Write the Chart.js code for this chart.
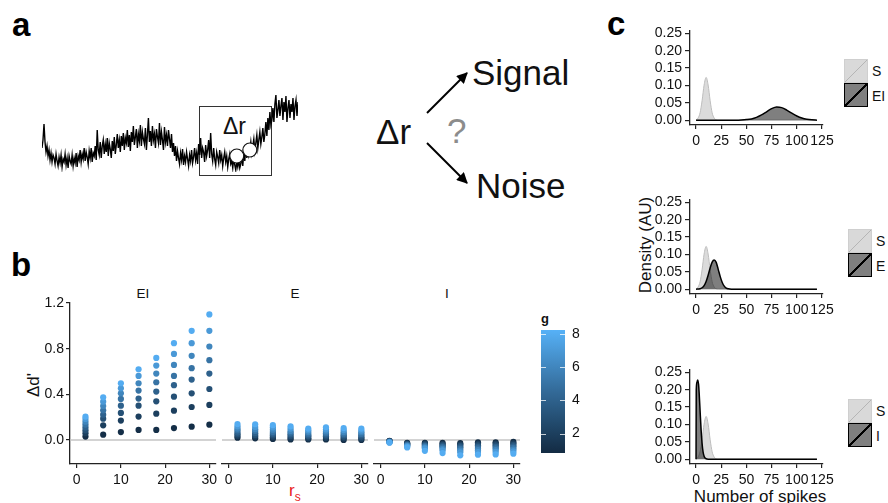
<!DOCTYPE html>
<html>
<head>
<meta charset="utf-8">
<script src="https://cdn.jsdelivr.net/npm/chart.js@4.4.0/dist/chart.umd.min.js"></script>
<style>
  body { margin: 0; background: #fff; }
  #fig { position: relative; width: 888px; height: 503px; overflow: hidden; background: #fff;
         font-family: "Liberation Sans", Arial, Helvetica, sans-serif; color: #111; }
  canvas { position: absolute; }
  .t { position: absolute; line-height: 1; white-space: nowrap; }
  .letter { font-weight: bold; font-size: 33px; color: #000; }
  .big { font-size: 35px; color: #111; }
  .strip { font-size: 13.5px; transform: translateX(-50%); color: #111; }
  .title { font-size: 17px; }
  .rot { transform: translate(-50%, -50%) rotate(-90deg); }
  .key { position: absolute; width: 24px; height: 24px; box-sizing: border-box; }
  .keyS { background: linear-gradient(to bottom right, #d9d9d9 calc(50% - 0.7px), #b5b5b5 calc(50% - 0.7px),
          #b5b5b5 calc(50% + 0.7px), #d9d9d9 calc(50% + 0.7px)); border: 1px solid #cfcfcf; }
  .keyD { background: linear-gradient(to bottom right, #7f7f7f calc(50% - 0.9px), #000 calc(50% - 0.9px),
          #000 calc(50% + 0.9px), #7f7f7f calc(50% + 0.9px)); border: 1.3px solid #000; }
  .keyLbl { font-size: 14px; }
</style>
</head>
<body>
<div id="fig">
  <!-- panel letters -->
  <div class="t letter" style="left:12px; top:8px;">a</div>
  <div class="t letter" style="left:11px; top:248px;">b</div>
  <div class="t letter" style="left:607px; top:7px;">c</div>

  <!-- panel a: window box and diagram -->
  <div style="position:absolute; left:199px; top:106px; width:73px; height:70px; border:1.3px solid #333; box-sizing:border-box;"></div>
  <div class="t" style="left:223px; top:115px; font-size:23px;">Δr</div>
  <div class="t big" style="left:376px; top:114px;">Δr</div>
  <div class="t big" style="left:447px; top:113px; color:#8c8c8c;">?</div>
  <div class="t big" style="left:472px; top:55px;">Signal</div>
  <div class="t big" style="left:476px; top:168px;">Noise</div>
  <svg width="888" height="503" style="position:absolute; left:0; top:0;">
    <defs>
      <marker id="ah" viewBox="0 0 10 10" refX="9" refY="5" markerWidth="12" markerHeight="11"
              orient="auto" markerUnits="userSpaceOnUse">
        <path d="M0,0 L10,5 L0,10 z" fill="#000"/>
      </marker>
    </defs>
    <line x1="427" y1="113" x2="467" y2="73" stroke="#000" stroke-width="2" marker-end="url(#ah)"/>
    <line x1="427" y1="143" x2="467" y2="183" stroke="#000" stroke-width="2" marker-end="url(#ah)"/>
  </svg>

  <!-- panel b text -->
  <div class="t strip" style="left:143px; top:287px;">EI</div>
  <div class="t strip" style="left:295px; top:287px;">E</div>
  <div class="t strip" style="left:447px; top:287px;">I</div>
  <div class="t title rot" style="left:33px; top:385px;">Δd'</div>
  <div class="t title" style="left:289px; top:482px; color:#e8211d;">r<span style="font-size:12px; position:relative; top:5px;">s</span></div>
  <div class="t" style="left:541px; top:312px; font-size:13px; font-weight:bold;">g</div>

  <!-- panel c text -->
  <div class="t title rot" style="left:645px; top:245px;">Density (AU)</div>
  <div class="t title" style="left:760px; top:488px; transform:translateX(-50%);">Number of spikes</div>

  <div class="key keyS" style="left:844px; top:59px;"></div>
  <div class="key keyD" style="left:844px; top:83px;"></div>
  <div class="t keyLbl" style="left:872px; top:64px;">S</div>
  <div class="t keyLbl" style="left:872px; top:89px;">EI</div>

  <div class="key keyS" style="left:848px; top:229px;"></div>
  <div class="key keyD" style="left:848px; top:253px;"></div>
  <div class="t keyLbl" style="left:876px; top:234px;">S</div>
  <div class="t keyLbl" style="left:876px; top:259px;">E</div>

  <div class="key keyS" style="left:848px; top:399px;"></div>
  <div class="key keyD" style="left:848px; top:423px;"></div>
  <div class="t keyLbl" style="left:876px; top:404px;">S</div>
  <div class="t keyLbl" style="left:876px; top:429px;">I</div>
</div>

<script>
// ---- data ----

// panel a: noisy rate trace, one sample per pixel column, arbitrary units
const traceValues = [
  22, 30, 46, 28, 18, 24, 14, 20, 10, 17, 8, 15, 12, 6, 16, 9,
  4, 13, 7, 15, 3, 11, 8, 16, 5, 12, 2, 14, 9, 6, 15, 4,
  12, 7, 17, 3, 14, 10, 20, 8, 16, 11, 22, 9, 18, 13, 6, 19,
  12, 22, 8, 17, 14, 24, 10, 40, 20, 15, 28, 12, 24, 30, 16, 26,
  18, 32, 14, 27, 21, 12, 29, 19, 33, 16, 25, 36, 22, 30, 18, 34,
  24, 37, 20, 32, 27, 40, 23, 35, 19, 38, 28, 44, 25, 33, 41, 22,
  36, 29, 45, 24, 38, 31, 26, 42, 20, 35, 52, 28, 39, 24, 44, 30,
  36, 22, 41, 33, 27, 47, 25, 38, 30, 20, 43, 28, 35, 24, 40, 31,
  22, 36, 18, 27, 14, 24, 9, 19, 12, 6, 17, 10, 21, 5, 14, 8,
  18, 11, 4, 15, 9, 20, 7, 13, 22, 10, 17, 6, 26, 15, 32, 12,
  22, 18, 8, 25, 14, 20, 30, 12, 37, 16, 9, 22, 11, 5, 18, 13,
  7, 20, 10, 15, 4, 12, 18, 8, 14, 3, 11, 16, 6, 9, 2, 12,
  5, 0, 8, 3, 10, 2, 6, 14, 4, 18, 9, 22, 12, 26, 15, 20,
  28, 17, 24, 31, 19, 27, 35, 22, 30, 38, 26, 33, 42, 28, 36, 48,
  34, 52, 40, 58, 45, 50, 62, 48, 66, 75, 52, 60, 70, 54, 64, 72,
  50, 68, 58, 74, 48, 62, 70, 52, 66, 58, 72, 50, 64, 70, 54, 68
];
const windowPoints = [{ x: 194, y: 14 }, { x: 207, y: 20 }];

// panel b: delta d' per r_s column, values listed for g = 1..8
const rsValues = [2, 6, 10, 14, 18, 22, 26, 30];
const rsTicks = [0, 10, 20, 30];
const gLevels = [1, 2, 3, 4, 5, 6, 7, 8];
const gTicks = [2, 4, 6, 8];
const gLimits = [0.83, 8.24];
const dprimeTicks = [0, 0.4, 0.8, 1.2];

const deltaEI = [
  [0.03, 0.06, 0.085, 0.11, 0.135, 0.16, 0.185, 0.205],
  [0.047, 0.129, 0.187, 0.222, 0.26, 0.298, 0.336, 0.374],
  [0.07, 0.17, 0.237, 0.301, 0.36, 0.409, 0.453, 0.497],
  [0.088, 0.205, 0.301, 0.363, 0.433, 0.497, 0.561, 0.62],
  [0.088, 0.231, 0.339, 0.424, 0.506, 0.582, 0.652, 0.719],
  [0.105, 0.257, 0.38, 0.48, 0.561, 0.658, 0.754, 0.848],
  [0.117, 0.289, 0.409, 0.529, 0.629, 0.737, 0.848, 0.956],
  [0.134, 0.307, 0.447, 0.582, 0.699, 0.819, 0.956, 1.10]
];
const deltaE = [
  [0.02, 0.035, 0.05, 0.065, 0.085, 0.1, 0.12, 0.14],
  [0.015, 0.03, 0.045, 0.06, 0.08, 0.095, 0.115, 0.138],
  [0.01, 0.025, 0.04, 0.055, 0.07, 0.09, 0.11, 0.13],
  [0.005, 0.02, 0.035, 0.05, 0.065, 0.08, 0.1, 0.12],
  [0.005, 0.015, 0.03, 0.04, 0.055, 0.07, 0.085, 0.1],
  [0.005, 0.018, 0.032, 0.046, 0.06, 0.075, 0.092, 0.112],
  [0.0, 0.015, 0.028, 0.042, 0.056, 0.07, 0.087, 0.105],
  [0.0, 0.012, 0.025, 0.04, 0.053, 0.068, 0.083, 0.1]
];
const deltaI = [
  [-0.008, -0.01, -0.012, -0.014, -0.016, -0.018, -0.02, -0.023],
  [-0.025, -0.03, -0.035, -0.04, -0.045, -0.05, -0.056, -0.065],
  [-0.025, -0.032, -0.04, -0.048, -0.056, -0.064, -0.074, -0.095],
  [-0.025, -0.035, -0.045, -0.055, -0.065, -0.077, -0.09, -0.114],
  [-0.028, -0.04, -0.052, -0.064, -0.077, -0.092, -0.108, -0.134],
  [-0.02, -0.033, -0.046, -0.06, -0.074, -0.089, -0.105, -0.128],
  [-0.02, -0.033, -0.046, -0.06, -0.073, -0.088, -0.104, -0.126],
  [-0.016, -0.029, -0.042, -0.055, -0.069, -0.084, -0.1, -0.12]
];

// panel c: spike count densities
const spikeTicks = [0, 25, 50, 75, 100, 125];
const densityTicks = [0, 0.05, 0.10, 0.15, 0.20, 0.25];

const sX = [0, 2, 4, 6, 8, 10, 12, 14, 16, 18, 20, 22, 120];
const sDensity = [0.001, 0.006, 0.021, 0.056, 0.101, 0.123, 0.101, 0.056, 0.021, 0.006, 0.001, 0, 0];

const eiX = [0, 40, 45, 50, 55, 60, 65, 70, 75, 80, 85, 90, 95, 100, 105, 110, 115, 120];
const eiDensity = [0, 0, 0.0005, 0.0015, 0.0035, 0.008, 0.015, 0.024, 0.033, 0.038, 0.036, 0.029, 0.02, 0.012, 0.006, 0.0025, 0.0008, 0];

const eX = [0, 4, 6, 8, 10, 12, 14, 16, 18, 20, 22, 24, 26, 28, 30, 32, 35, 120];
const eDensity = [0, 0.001, 0.004, 0.01, 0.022, 0.04, 0.061, 0.078, 0.084, 0.077, 0.057, 0.036, 0.019, 0.0085, 0.003, 0.001, 0, 0];

const iX = [0, 0.2, 1, 1.6, 2.5, 3, 4, 5, 6, 7, 8, 9, 10, 12, 120];
const iDensity = [0, 0.2, 0.222, 0.228, 0.215, 0.195, 0.14, 0.085, 0.045, 0.02, 0.008, 0.003, 0.001, 0, 0];

// ---- helpers ----
Chart.defaults.font.family = '"Liberation Sans", Arial, Helvetica, sans-serif';
Chart.defaults.font.size = 14;
Chart.defaults.color = '#111';

const fig = document.getElementById('fig');

function makeCanvas(left, top, width, height) {
  const c = document.createElement('canvas');
  c.width = width;
  c.height = height;
  c.style.left = left + 'px';
  c.style.top = top + 'px';
  c.style.width = width + 'px';
  c.style.height = height + 'px';
  fig.appendChild(c);
  return c;
}

const gradStops = ['#132B43', '#224B6E', '#336A98', '#448DC7', '#56B1F7'];

function hexToRgb(h) {
  const n = parseInt(h.slice(1), 16);
  return [(n >> 16) & 255, (n >> 8) & 255, n & 255];
}

function gColour(g) {
  const t = Math.min(1, Math.max(0, (g - gLimits[0]) / (gLimits[1] - gLimits[0])));
  const pos = t * (gradStops.length - 1);
  const i = Math.min(Math.floor(pos), gradStops.length - 2);
  const f = pos - i;
  const a = hexToRgb(gradStops[i]);
  const b = hexToRgb(gradStops[i + 1]);
  const c = a.map((v, k) => Math.round(v + (b[k] - v) * f));
  return `rgb(${c[0]}, ${c[1]}, ${c[2]})`;
}

function facetPoints(columns) {
  const pts = [];
  gLevels.forEach((g, gi) => {
    rsValues.forEach((rs, ri) => pts.push({ x: rs, y: columns[ri][gi], g: g }));
  });
  return pts;
}

function toPoints(xs, ys) {
  return xs.map((x, i) => ({ x: x, y: ys[i] }));
}

const zeroLine = {
  id: 'zeroLine',
  beforeDatasetsDraw(chart) {
    const { ctx, chartArea, scales } = chart;
    const y = scales.y.getPixelForValue(0);
    ctx.save();
    ctx.strokeStyle = '#c4c4c4';
    ctx.lineWidth = 1.5;
    ctx.beginPath();
    ctx.moveTo(chartArea.left, y);
    ctx.lineTo(chartArea.right, y);
    ctx.stroke();
    ctx.restore();
  }
};

const colourbarTicks = {
  id: 'colourbarTicks',
  afterDatasetsDraw(chart) {
    const { ctx, chartArea: a, scales } = chart;
    ctx.save();
    ctx.strokeStyle = 'rgba(255,255,255,0.75)';
    ctx.lineWidth = 1;
    gTicks.forEach(v => {
      const py = Math.round(scales.y.getPixelForValue(v)) + 0.5;
      ctx.beginPath();
      ctx.moveTo(a.left, py);
      ctx.lineTo(a.left + 5, py);
      ctx.moveTo(a.right - 5, py);
      ctx.lineTo(a.right, py);
      ctx.stroke();
    });
    ctx.restore();
  }
};

function axisGrid(len) {
  return { display: true, drawOnChartArea: false, drawTicks: true, tickLength: len, color: '#222', lineWidth: 1.2 };
}
const axisBorder = { display: true, color: '#222', width: 1.3 };

const baseOptions = {
  responsive: false,
  animation: false,
  devicePixelRatio: 1,
  plugins: { legend: { display: false }, tooltip: { enabled: false } }
};

// ---- panel a: trace ----
new Chart(makeCanvas(42, 90, 256, 82), {
  type: 'line',
  data: {
    datasets: [
      {
        type: 'scatter',
        data: windowPoints,
        order: 0,
        pointRadius: 7,
        pointBackgroundColor: '#fff',
        pointBorderColor: '#111',
        pointBorderWidth: 1.2,
        clip: false
      },
      {
        data: traceValues.map((v, i) => ({ x: i, y: v })),
        order: 1,
        borderColor: '#000',
        borderWidth: 1.4,
        pointRadius: 0,
        tension: 0
      }
    ]
  },
  options: {
    ...baseOptions,
    layout: { padding: 0, autoPadding: false },
    scales: {
      x: { type: 'linear', display: false, min: 0, max: traceValues.length - 1 },
      y: { display: false, min: -2, max: 80 }
    }
  }
});

// ---- panel b: facets ----
function facetChart(left, width, columns, showY) {
  const pts = facetPoints(columns);
  return new Chart(makeCanvas(left, 287, width, 203), {
    type: 'scatter',
    data: {
      datasets: [{
        data: pts,
        pointRadius: 3.1,
        pointBorderWidth: 0,
        pointBackgroundColor: pts.map(p => gColour(p.g))
      }]
    },
    options: {
      ...baseOptions,
      layout: { padding: { top: 16, right: 20, bottom: 0, left: 0 }, autoPadding: false },
      scales: {
        x: {
          type: 'linear', min: -1.5, max: 31.5,
          afterBuildTicks: s => { s.ticks = rsTicks.map(v => ({ value: v })); },
          afterFit: s => { s.height = 26; },
          grid: axisGrid(4),
          border: axisBorder,
          ticks: { padding: 3.5, autoSkip: false, maxRotation: 0, callback: v => String(v) }
        },
        y: showY ? {
          min: -0.21, max: 1.2,
          afterBuildTicks: s => { s.ticks = dprimeTicks.map(v => ({ value: v })); },
          afterFit: s => { s.width = 40; },
          grid: axisGrid(4),
          border: axisBorder,
          ticks: { padding: 2, autoSkip: false, callback: v => Number(v).toFixed(1) }
        } : {
          min: -0.21, max: 1.2,
          afterFit: s => { s.width = 8; },
          grid: { display: false },
          border: { display: false },
          ticks: { display: false }
        }
      }
    },
    plugins: [zeroLine]
  });
}

facetChart(30, 206, deltaEI, true);
facetChart(214, 174, deltaE, false);
facetChart(366, 174, deltaI, false);

// colour bar for g
new Chart(makeCanvas(541, 314, 48, 155), {
  type: 'bar',
  data: {
    labels: ['g'],
    datasets: [{
      data: [[gLimits[0], gLimits[1]]],
      borderWidth: 0,
      borderSkipped: false,
      barPercentage: 1,
      categoryPercentage: 1,
      backgroundColor: ctx => {
        const area = ctx.chart.chartArea;
        if (!area) return gColour(gLimits[1]);
        const grad = ctx.chart.ctx.createLinearGradient(0, area.bottom, 0, area.top);
        gradStops.forEach((c, i) => grad.addColorStop(i / (gradStops.length - 1), c));
        return grad;
      }
    }]
  },
  options: {
    ...baseOptions,
    layout: { padding: { top: 16, bottom: 16, left: 0, right: 0 }, autoPadding: false },
    scales: {
      x: { display: false },
      y: {
        position: 'right', min: gLimits[0], max: gLimits[1],
        afterBuildTicks: s => { s.ticks = gTicks.map(v => ({ value: v })); },
        afterFit: s => { s.width = 24; },
        grid: { display: false, drawTicks: false },
        border: { display: false },
        ticks: { padding: 7, autoSkip: false, callback: v => String(v) }
      }
    }
  },
  plugins: [colourbarTicks]
});

// ---- panel c: densities ----
function densityChart(top, xs, ys) {
  return new Chart(makeCanvas(642, top, 201, 136), {
    type: 'line',
    data: {
      datasets: [
        {
          data: toPoints(xs, ys),
          order: 0,
          borderColor: '#000',
          borderWidth: 1.5,
          backgroundColor: 'rgba(0,0,0,0.5)',
          fill: 'origin',
          pointRadius: 0,
          cubicInterpolationMode: 'monotone'
        },
        {
          data: toPoints(sX, sDensity),
          order: 1,
          borderColor: '#bdbdbd',
          borderWidth: 1,
          backgroundColor: 'rgba(190,190,190,0.55)',
          fill: 'origin',
          pointRadius: 0,
          cubicInterpolationMode: 'monotone'
        }
      ]
    },
    options: {
      ...baseOptions,
      layout: { padding: { top: 16, right: 20, bottom: 0, left: 0 }, autoPadding: false },
      scales: {
        x: {
          type: 'linear', min: -6, max: 126,
          afterBuildTicks: s => { s.ticks = spikeTicks.map(v => ({ value: v })); },
          afterFit: s => { s.height = 26; },
          grid: axisGrid(4),
          border: axisBorder,
          ticks: { padding: 3.5, autoSkip: false, maxRotation: 0, callback: v => String(v) }
        },
        y: {
          min: -0.014, max: 0.2566,
          afterBuildTicks: s => { s.ticks = densityTicks.map(v => ({ value: v })); },
          afterFit: s => { s.width = 48; },
          grid: axisGrid(5),
          border: axisBorder,
          ticks: { padding: 3, autoSkip: false, callback: v => Number(v).toFixed(2) }
        }
      }
    }
  });
}

densityChart(15, eiX, eiDensity);
densityChart(184, eX, eDensity);
densityChart(354, iX, iDensity);
</script>
</body>
</html>
